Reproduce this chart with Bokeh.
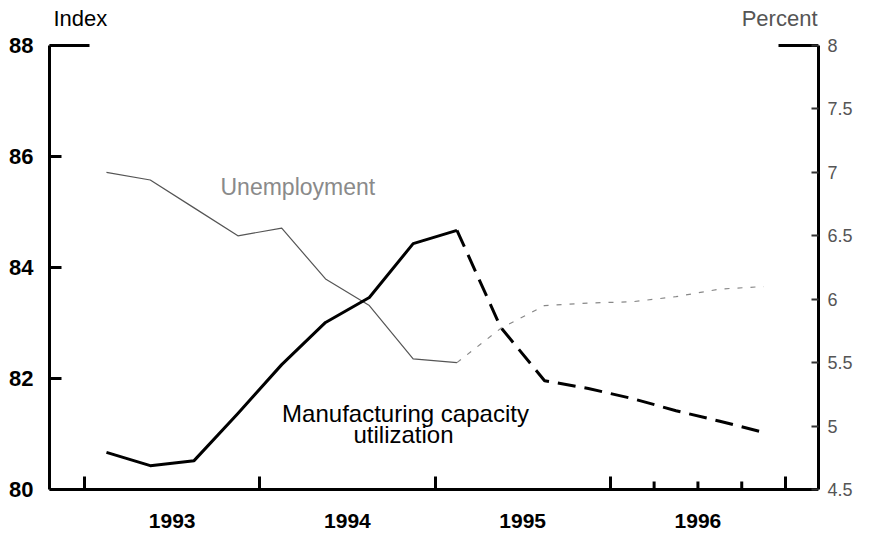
from bokeh.plotting import figure
from bokeh.models import Range1d, LinearAxis, FixedTicker, Label, CustomJSTickFormatter
from bokeh.embed import file_html
from bokeh.resources import INLINE

# ---------------- data ----------------
quarters = ["1993Q1", "1993Q2", "1993Q3", "1993Q4",
            "1994Q1", "1994Q2", "1994Q3", "1994Q4",
            "1995Q1", "1995Q2", "1995Q3", "1995Q4",
            "1996Q1", "1996Q2", "1996Q3", "1996Q4"]
manufacturing = [80.67, 80.43, 80.52, 81.37, 82.25, 83.01, 83.46, 84.43,
                 84.67, 82.92, 81.96, 81.82, 81.64, 81.42, 81.23, 81.03]
unemployment = [7.00, 6.94, 6.72, 6.50, 6.56, 6.16, 5.95, 5.53,
                5.50, 5.77, 5.95, 5.97, 5.98, 6.02, 6.08, 6.10]
last_actual = "1995Q1"
year_labels = ["1993", "1994", "1995", "1996"]
year_centers = [1993.5, 1994.5, 1995.5, 1996.5]
year_bounds = [1993, 1994, 1995, 1996, 1997]
quarter_marks = [1996.25, 1996.5, 1996.75]
index_ticks = [80, 82, 84, 86, 88]
percent_ticks = [4.5, 5, 5.5, 6, 6.5, 7, 7.5, 8]
percent_labels = ["4.5", "5", "5.5", "6", "6.5", "7", "7.5", "8"]


def qpos(q):
    return int(q[:4]) + (int(q[5]) - 0.5) / 4


xs = [qpos(q) for q in quarters]
k = quarters.index(last_actual)

FONT = "Liberation Sans"
W, H = 871, 534
X0, X1 = 1992.80, 1997.188
I_LO, I_HI = 80.0, 88.0          # index axis extent
P_LO, P_HI = 4.5, 8.0            # percent axis extent
top_px, axis_px = 45, 489        # where 88 and 80 sit inside the figure
ppu = (axis_px - top_px) / (I_HI - I_LO)
Y_TOP = I_HI + top_px / ppu
Y_BOT = I_LO - (H - axis_px) / ppu
pscale = (P_HI - P_LO) / (I_HI - I_LO)
PY_TOP = P_HI + (Y_TOP - I_HI) * pscale
PY_BOT = P_LO - (I_LO - Y_BOT) * pscale
ypx = (X1 - X0) / (818 - 49)     # years per pixel

p = figure(width=W, height=H,
           x_range=Range1d(X0, X1), y_range=Range1d(Y_BOT, Y_TOP),
           output_backend="svg", toolbar_location=None,
           min_border_left=49, min_border_right=53,
           min_border_top=0, min_border_bottom=0)
p.extra_y_ranges = {"pct": Range1d(PY_BOT, PY_TOP)}
p.grid.visible = False
p.outline_line_color = None
p.background_fill_color = "white"
p.border_fill_color = "white"

# left axis
ya = p.yaxis[0]
ya.ticker = FixedTicker(ticks=index_ticks)
ya.bounds = (I_LO, I_HI)
ya.axis_line_width = 3
ya.axis_line_color = "black"
ya.major_tick_in = 12
ya.major_tick_out = 0
ya.major_tick_line_width = 3
ya.minor_tick_line_color = None
ya.major_label_standoff = 16
ya.major_label_text_font = FONT
ya.major_label_text_font_size = "22px"
ya.major_label_text_font_style = "bold"
ya.major_label_text_color = "black"

# bottom axis, pinned at index 80
xa = p.xaxis[0]
xa.fixed_location = I_LO
xa.ticker = FixedTicker(ticks=year_centers, minor_ticks=year_bounds)
xa.formatter = CustomJSTickFormatter(
    args=dict(t=year_centers, l=year_labels),
    code="for (let i = 0; i < t.length; i++) { if (Math.abs(t[i] - tick) < 1e-6) return l[i]; } return '';")
xa.axis_line_width = 3
xa.axis_line_color = "black"
xa.major_tick_in = 0
xa.major_tick_out = 0
xa.major_tick_line_color = None
xa.minor_tick_in = 13
xa.minor_tick_out = 0
xa.minor_tick_line_width = 3
xa.minor_tick_line_color = "black"
xa.major_label_standoff = 24
xa.major_label_text_font = FONT
xa.major_label_text_font_size = "21px"
xa.major_label_text_font_style = "bold"
xa.major_label_text_color = "black"

# right axis
ra = LinearAxis(y_range_name="pct", ticker=FixedTicker(ticks=percent_ticks),
                bounds=(P_LO, P_HI),
                formatter=CustomJSTickFormatter(
                    args=dict(t=percent_ticks, l=percent_labels),
                    code="for (let i = 0; i < t.length; i++) { if (Math.abs(t[i] - tick) < 1e-6) return l[i]; } return '';"))
ra.axis_line_width = 3
ra.axis_line_color = "black"
ra.major_tick_in = 7
ra.major_tick_out = 0
ra.major_tick_line_width = 2
ra.major_tick_line_color = "#333333"
ra.minor_tick_line_color = None
ra.major_label_standoff = 9
ra.major_label_text_font = FONT
ra.major_label_text_font_size = "18px"
ra.major_label_text_color = "#555555"
p.add_layout(ra, "right")

# short frame pieces along the top and quarter ticks in 1996
seg_len = 40 * ypx
p.segment(x0=[X0, X1 - seg_len], x1=[X0 + seg_len, X1], y0=[I_HI, I_HI], y1=[I_HI, I_HI],
          line_color="black", line_width=3)
p.segment(x0=quarter_marks, x1=quarter_marks, y0=[I_LO] * 3, y1=[I_LO + 8 / ppu] * 3,
          line_color="black", line_width=3)

# unemployment (right axis)
p.line(xs[:k + 1], unemployment[:k + 1], y_range_name="pct",
       line_color="#555555", line_width=1.2, line_join="round")
p.line(xs[k:], unemployment[k:], y_range_name="pct",
       line_color="#888888", line_width=1.2, line_dash="5 8")

# manufacturing capacity utilization (left axis)
p.line(xs[:k + 1], manufacturing[:k + 1], line_color="black", line_width=3,
       line_join="round")
p.line(xs[k:], manufacturing[k:], line_color="black", line_width=3,
       line_dash="18 9", line_join="round")

# texts
p.add_layout(Label(x=X0 + 4 * ypx, y=I_HI + 27 / ppu, text="Index", text_align="left",
                   text_baseline="middle", text_font=FONT,
                   text_font_size="22px", text_color="black"))
p.add_layout(Label(x=X1 - 1 * ypx, y=I_HI + 27 / ppu, text="Percent", text_align="right",
                   text_baseline="middle", text_font=FONT,
                   text_font_size="22px", text_color="#555555"))
p.add_layout(Label(x=X0 + 171 * ypx, y=85.45, text="Unemployment", text_align="left",
                   text_baseline="middle", text_font=FONT,
                   text_font_size="23px", text_color="#8a8a8a"))
p.add_layout(Label(x=X0 + 356 * ypx, y=I_LO + 76 / ppu, text="Manufacturing capacity",
                   text_align="center", text_baseline="middle", text_font=FONT,
                   text_font_size="24px", text_color="black"))
p.add_layout(Label(x=X0 + 354 * ypx, y=I_LO + 55 / ppu, text="utilization",
                   text_align="center", text_baseline="middle", text_font=FONT,
                   text_font_size="24px", text_color="black"))

open("out.html", "w").write(file_html(p, INLINE))
